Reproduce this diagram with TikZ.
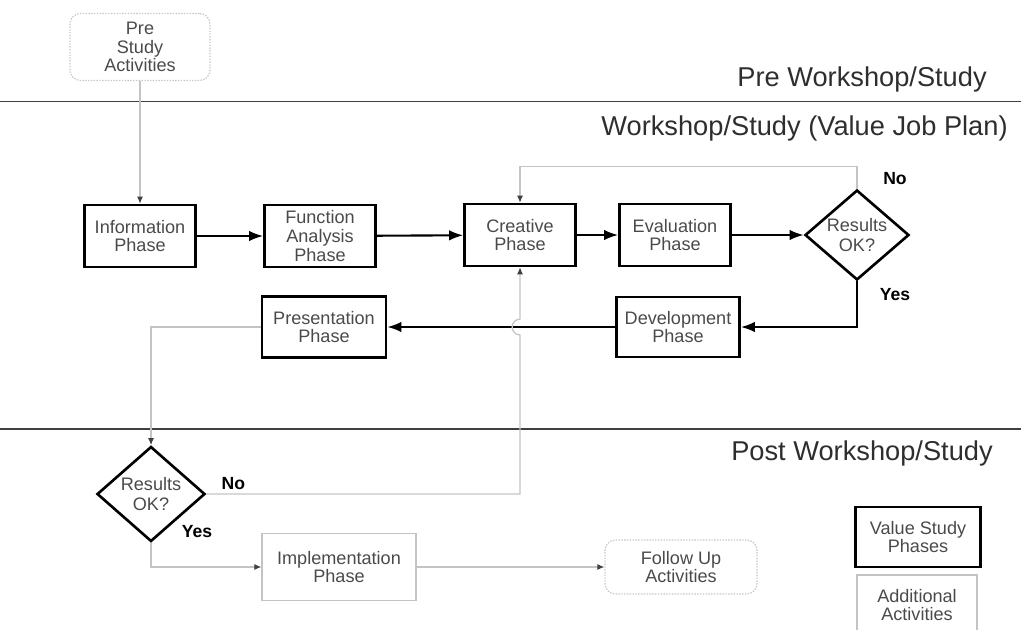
\documentclass[tikz,border=0pt]{standalone}
\usepackage{fontspec}
\setmainfont{Liberation Sans}
\usetikzlibrary{arrows.meta}
\usetikzlibrary{positioning}
\usetikzlibrary{shapes.geometric}

\definecolor{boxtext}{HTML}{4A4A4A}
\definecolor{lightline}{HTML}{C4C4C4}
\definecolor{headtext}{HTML}{2E2E2E}

\begin{document}
\begin{tikzpicture}[
		phase/.style={draw, line width=1.5pt, align=center, text=boxtext, font=\fontsize{10.3}{10.7}\selectfont, inner sep=1pt, minimum width=2.22cm, minimum height=1.24cm},
		extra/.style={draw=lightline, line width=0.7pt, align=center, text=boxtext, font=\fontsize{10.3}{10.7}\selectfont, inner sep=1pt},
		activity/.style={extra, draw=gray!45, dash pattern=on 0.8pt off 0.8pt, rounded corners=6pt},
		decision/.style={diamond, draw, line width=1.5pt, align=center, text=boxtext, font=\fontsize{10.3}{10.9}\selectfont, inner sep=0pt, aspect=1.16},
		answer/.style={font=\bfseries\fontsize{10}{12}\selectfont},
		header/.style={anchor=east, text=headtext, font=\fontsize{15.5}{18}\selectfont, inner sep=0pt},
		divider/.style={line width=1.1pt, draw=darkgray},
		flow/.style={line width=1.2pt, -{Latex[length=8pt,width=6pt]}},
		minor/.style={draw=lightline, line width=0.7pt, -{Latex[length=4pt,width=3.5pt,color=darkgray]}}
	]
		\useasboundingbox (0,0) rectangle (20.42,-12.58);

		\draw[divider] (0,-2.03) -- (20.42,-2.03);
		\draw[divider] (0,-8.58) -- (20.42,-8.58);
		\node[header] (prehead) at (19.74,-1.58) {Pre Workshop/Study};
		\node[header] (jobhead) at (20.16,-2.56) {Workshop/Study (Value Job Plan)};
		\node[header] (posthead) at (19.86,-9.06) {Post Workshop/Study};

		\node[activity, minimum width=2.8cm, minimum height=1.34cm] (pre) at (2.8,-0.94) {Pre\\Study\\Activities};

		\node[phase] (info) at (2.8,-4.72) {Information\\Phase};
		\node[phase] (func) at (6.4,-4.72) {Function\\Analysis\\Phase};
		\node[phase] (creat) at (10.4,-4.70) {Creative\\Phase};
		\node[phase] (eval) at (13.5,-4.70) {Evaluation\\Phase};
		\node[decision, minimum width=2.08cm, minimum height=1.8cm] (resa) at (17.14,-4.70) {Results\\OK?};
		\node[phase, minimum width=2.46cm, minimum height=1.2cm] (dev) at (13.56,-6.54) {Development\\Phase};
		\node[phase, minimum width=2.48cm, minimum height=1.22cm] (pres) at (6.48,-6.54) {Presentation\\Phase};

		\node[decision, minimum width=2.16cm, minimum height=1.9cm] (resb) at (3.02,-9.88) {Results\\OK?};
		\node[extra, minimum width=3.08cm, minimum height=1.34cm] (impl) at (6.78,-11.34) {Implementation\\Phase};
		\node[activity, minimum width=3.04cm, minimum height=1.08cm] (follow) at (13.62,-11.34) {Follow Up\\Activities};

		\node[phase, minimum width=2.5cm, minimum height=1.2cm] (keyphase) at (18.36,-10.74) {Value Study\\Phases};
		\node[extra, minimum width=2.4cm, minimum height=1.2cm] (keyextra) at (18.34,-12.1) {Additional\\Activities};

		\draw[minor] (pre) -- (info);
		\draw[flow] (info) -- (func);
		\draw[flow] (func) -- (creat);
		\draw[flow] (creat) -- (eval);
		\draw[flow] (eval) -- (resa);
		\draw[flow] (resa.south) |- (dev);
		\draw[flow] (dev) -- (pres);
		\draw[minor] (resa.north) -- ++(0,0.44) -| (creat);
		\node[answer] at ([shift={(0.76,0.2)}]resa.north) {No};
		\node[answer] at ([shift={(0.76,-0.26)}]resa.south) {Yes};

		\draw[minor] (pres.west) -| (resb.north);
		\coordinate (hop) at (creat.south |- dev);
		\draw[minor] (resb.east) -| ([yshift=-4.5pt]hop) arc[start angle=270, end angle=90, radius=4.5pt] -- (creat.south);
		\draw[minor] (resb.south) |- (impl);
		\draw[minor] (impl) -- (follow);
		\node[answer] at ([shift={(0.54,0.2)}]resb.east) {No};
		\node[answer] at ([shift={(0.92,0.22)}]resb.south) {Yes};
	\end{tikzpicture}
\end{document}
